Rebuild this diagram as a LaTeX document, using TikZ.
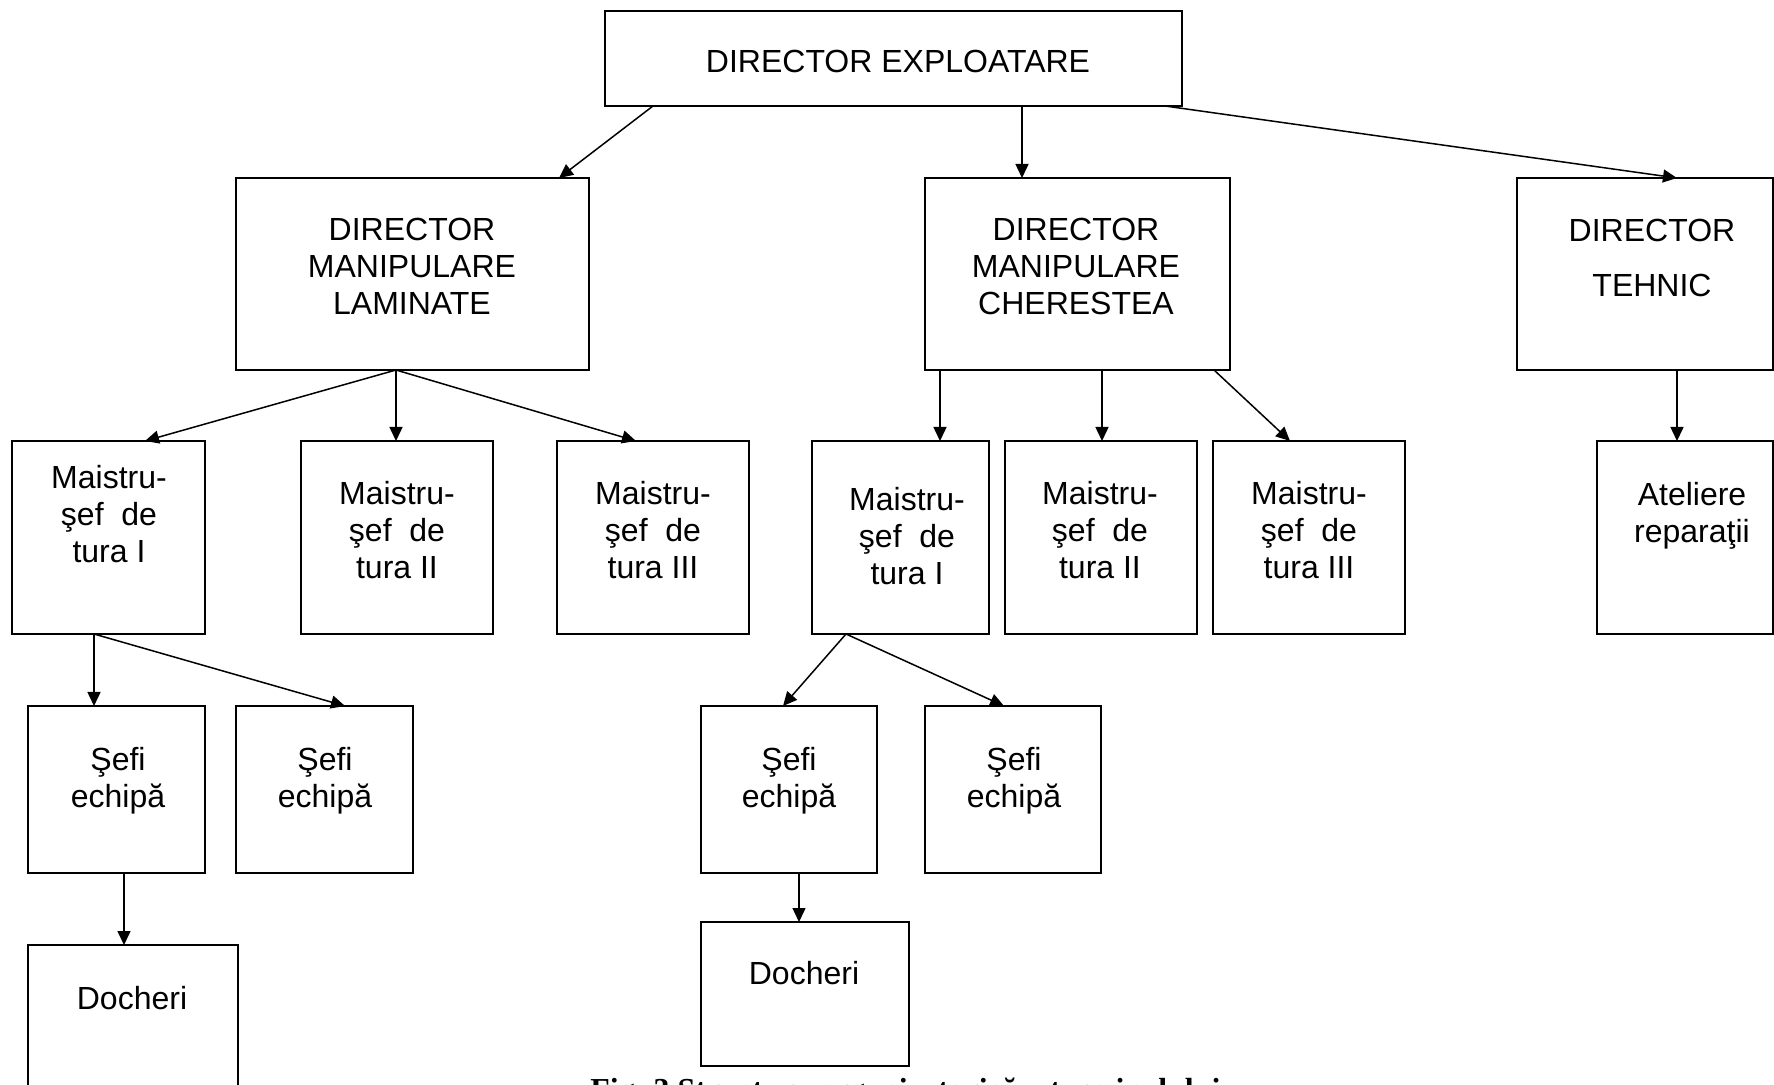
\documentclass[tikz,border=0pt]{standalone}
\usepackage{fontspec}
\setmainfont{Liberation Sans}
\newfontfamily\capfont{Liberation Serif}
\usetikzlibrary{arrows.meta}
\begin{document}
\begin{tikzpicture}[x=0.5pt,y=-0.5pt,
  box/.style={draw, line width=1pt, inner sep=0pt, outer sep=0pt, rectangle},
  lbl/.style={anchor=base, inner sep=0pt, font=\fontsize{16pt}{18.5pt}\selectfont},
  arr/.style={line width=0.75pt, -{Triangle[length=7pt,width=6.5pt]}}]
\useasboundingbox (0,0) rectangle (1774,1085);
\clip (0,0) rectangle (1774,1085);
\fill[white] (0,0) rectangle (1774,1085);
% boxes
\node[box, minimum width=288.5pt, minimum height=47.5pt] (top) at (893.5,58.5) {};
\node[box, minimum width=176.5pt, minimum height=96pt] (dml) at (412.5,274) {};
\node[box, minimum width=152.5pt, minimum height=96pt] (dmc) at (1077.5,274) {};
\node[box, minimum width=128pt, minimum height=96pt] (dt) at (1645,274) {};
\node[box, minimum width=96.5pt, minimum height=96.5pt] (l1) at (108.5,537.5) {};
\node[box, minimum width=96pt, minimum height=96.5pt] (l2) at (397,537.5) {};
\node[box, minimum width=96pt, minimum height=96.5pt] (l3) at (653,537.5) {};
\node[box, minimum width=88.5pt, minimum height=96.5pt] (c1) at (900.5,537.5) {};
\node[box, minimum width=96pt, minimum height=96.5pt] (c2) at (1101,537.5) {};
\node[box, minimum width=96pt, minimum height=96.5pt] (c3) at (1309,537.5) {};
\node[box, minimum width=88pt, minimum height=96.5pt] (at) at (1685,537.5) {};
\node[box, minimum width=88.5pt, minimum height=83.5pt] (sl1) at (116.5,789.5) {};
\node[box, minimum width=88.5pt, minimum height=83.5pt] (sl2) at (324.5,789.5) {};
\node[box, minimum width=88pt, minimum height=83.5pt] (sc1) at (789,789.5) {};
\node[box, minimum width=88pt, minimum height=83.5pt] (sc2) at (1013,789.5) {};
\node[box, minimum width=105pt, minimum height=82.5pt] (dl) at (133,1027.5) {};
\node[box, minimum width=104pt, minimum height=72pt] (dc) at (805,994) {};
% texts
\node[lbl] (ttop) at (898,73) {DIRECTOR EXPLOATARE};
\node[lbl] (tdml) at (412,241) {\begin{tabular}[t]{@{}c@{}}DIRECTOR\\MANIPULARE\\LAMINATE\end{tabular}};
\node[lbl] (tdmc) at (1076,241) {\begin{tabular}[t]{@{}c@{}}DIRECTOR\\MANIPULARE\\CHERESTEA\end{tabular}};
\node[lbl] (tdt) at (1652,242) {\begin{tabular}[t]{@{}c@{}}DIRECTOR\\[9pt]TEHNIC\end{tabular}};
\node[lbl] (tl1) at (109,488.5) {\begin{tabular}[t]{@{}c@{}}Maistru-\\şef\ \ de\\tura I\end{tabular}};
\node[lbl] (tl2) at (397,505) {\begin{tabular}[t]{@{}c@{}}Maistru-\\şef\ \ de\\tura II\end{tabular}};
\node[lbl] (tl3) at (653,505) {\begin{tabular}[t]{@{}c@{}}Maistru-\\şef\ \ de\\tura III\end{tabular}};
\node[lbl] (tc1) at (907,511) {\begin{tabular}[t]{@{}c@{}}Maistru-\\şef\ \ de\\tura I\end{tabular}};
\node[lbl] (tc2) at (1100,505) {\begin{tabular}[t]{@{}c@{}}Maistru-\\şef\ \ de\\tura II\end{tabular}};
\node[lbl] (tc3) at (1309,505) {\begin{tabular}[t]{@{}c@{}}Maistru-\\şef\ \ de\\tura III\end{tabular}};
\node[lbl] (tat) at (1692,505.5) {\begin{tabular}[t]{@{}c@{}}Ateliere\\reparaţii\end{tabular}};
\node[lbl] (tsl1) at (118,770) {\begin{tabular}[t]{@{}c@{}}Şefi\\echipă\end{tabular}};
\node[lbl] (tsl2) at (325,770) {\begin{tabular}[t]{@{}c@{}}Şefi\\echipă\end{tabular}};
\node[lbl] (tsc1) at (789,770) {\begin{tabular}[t]{@{}c@{}}Şefi\\echipă\end{tabular}};
\node[lbl] (tsc2) at (1014,770) {\begin{tabular}[t]{@{}c@{}}Şefi\\echipă\end{tabular}};
\node[lbl] (tdl) at (132,1009) {Docheri};
\node[lbl] (tdc) at (804,984) {Docheri};
% connectors
\draw[arr] (top.south -| 653,0) -- (dml.north -| 559,0);
\draw[arr] (top.south -| 1022,0) -- (dmc.north -| 1022,0);
\draw[arr] (top.south -| 1165,0) -- (dt.north -| 1677,0);
\draw[arr] (dml.south -| 396,0) -- (l1.north -| 145,0);
\draw[arr] (dml.south -| 396,0) -- (l2.north -| 396,0);
\draw[arr] (dml.south -| 396,0) -- (l3.north -| 636,0);
\draw[arr] (dmc.south -| 940,0) -- (c1.north -| 940,0);
\draw[arr] (dmc.south -| 1102,0) -- (c2.north -| 1102,0);
\draw[arr] (dmc.south -| 1214,0) -- (c3.north -| 1290,0);
\draw[arr] (dt.south -| 1677,0) -- (at.north -| 1677,0);
\draw[arr] (l1.south -| 94,0) -- (sl1.north -| 94,0);
\draw[arr] (l1.south -| 94,0) -- (sl2.north -| 345,0);
\draw[arr] (c1.south -| 846,0) -- (sc1.north -| 783,0);
\draw[arr] (c1.south -| 846,0) -- (sc2.north -| 1004,0);
\draw[arr] (sl1.south -| 124,0) -- (dl.north -| 124,0);
\draw[arr] (sc1.south -| 799,0) -- (dc.north -| 799,0);
% caption (cut off at the bottom edge)
\node[anchor=base west, inner sep=0pt, font=\capfont\bfseries\fontsize{16pt}{19pt}\selectfont] (cap) at (590,1100) {Fig. 3 Structura organizatorică a terminalului};
\end{tikzpicture}
\end{document}
